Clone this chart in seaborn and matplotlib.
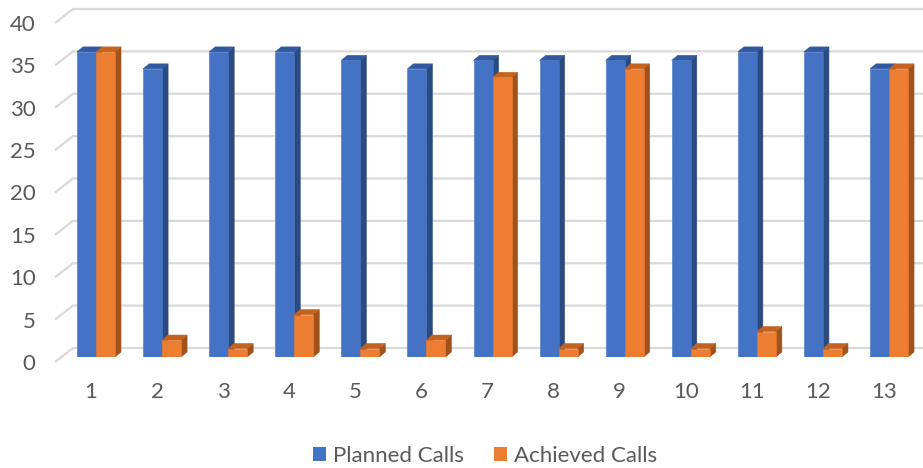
import numpy as np
import pandas as pd
import matplotlib
matplotlib.use("Agg")
import matplotlib.pyplot as plt
from matplotlib.patches import Polygon, Patch
from matplotlib.transforms import ScaledTranslation
import seaborn as sns

# ---- data ----
categories = [str(i) for i in range(1, 14)]
planned_calls = [36, 34, 36, 36, 35, 34, 35, 35, 35, 35, 36, 36, 34]
achieved_calls = [36, 2, 1, 5, 1, 2, 33, 1, 34, 1, 3, 1, 34]
series_names = ["Planned Calls", "Achieved Calls"]
y_ticks = [0, 5, 10, 15, 20, 25, 30, 35, 40]

df = pd.DataFrame({
    "cat": categories * 2,
    "series": [series_names[0]] * len(categories) + [series_names[1]] * len(categories),
    "value": planned_calls + achieved_calls,
})

# ---- style ----
sns.set_style("white")
plt.rcParams["font.family"] = ["Lato", "DejaVu Sans"]
TXT = "#595959"
FS = 16
front = {"Planned Calls": "#4472C4", "Achieved Calls": "#ED7D31"}
top_c = {"Planned Calls": "#31599F", "Achieved Calls": "#C4621F"}
side_c = {"Planned Calls": "#2B4A80", "Achieved Calls": "#A0521C"}

W, H, DPI = 923, 468, 100
fig = plt.figure(figsize=(W / DPI, H / DPI), dpi=DPI)
# axes in pixels: x 55..923, y(0)=357px, y(40)=18px from top
ax = fig.add_axes([55 / W, (H - 357) / H, 868 / W, 339 / H])

sns.barplot(data=df, x="cat", y="value", hue="series", order=categories,
            hue_order=series_names, palette=front, width=0.575,
            saturation=1, ax=ax, zorder=3, linewidth=0)
if ax.get_legend():
    ax.get_legend().remove()

ax.set_xlim(-0.6205, 12.514)
ax.set_ylim(0, 40)
for s in ax.spines.values():
    s.set_visible(False)

px_x = (ax.get_xlim()[1] - ax.get_xlim()[0]) / 868.0   # data units per pixel (x)
px_y = 40.0 / 339.0                                     # data units per pixel (y)

# ---- back wall gridlines with left perspective edge ----
x0 = ax.get_xlim()[0]
x_back = x0 + 18 * px_x
x1 = ax.get_xlim()[1]
for v in y_ticks:
    yf = v - 5 * px_y
    yb = v + 9 * px_y
    ax.plot([x0, x_back, x1], [yf, yb, yb], color="#D9D9D9", lw=1.6,
            zorder=1, clip_on=False, solid_capstyle="butt")

# ---- 3D faces on bars ----
dx = 6 * px_x
dy = 5 * px_y
bars = [p for p in ax.patches if p.get_width() > 0]
bars_sorted = sorted(bars, key=lambda p: p.get_x())
for i, p in enumerate(bars_sorted):
    xl = p.get_x()
    w = p.get_width()
    h = p.get_height()
    fc = matplotlib.colors.to_hex(p.get_facecolor())
    name = "Planned Calls" if fc.lower() == front["Planned Calls"].lower() else "Achieved Calls"
    z = 3 + i * 0.01
    p.set_zorder(z + 0.005)
    p.set_edgecolor(front[name])
    p.set_linewidth(0.4)
    side = Polygon([[xl + w, 0], [xl + w + dx, dy], [xl + w + dx, h + dy], [xl + w, h]],
                   closed=True, facecolor=side_c[name], edgecolor=side_c[name],
                   lw=0.4, zorder=z)
    top = Polygon([[xl, h], [xl + dx, h + dy], [xl + w + dx, h + dy], [xl + w, h]],
                  closed=True, facecolor=top_c[name], edgecolor=top_c[name],
                  lw=0.4, zorder=z)
    ax.add_patch(side)
    ax.add_patch(top)

# ---- ticks ----
ax.set_yticks(y_ticks)
ax.set_yticklabels([str(v) for v in y_ticks])
ax.tick_params(axis="y", length=0, pad=14, labelsize=FS, labelcolor=TXT)
ax.tick_params(axis="x", length=0, pad=18, labelsize=FS, labelcolor=TXT)
ax.set_xlabel("")
ax.set_ylabel("")
off_y = ScaledTranslation(0, -5 / DPI, fig.dpi_scale_trans)
for lab in ax.get_yticklabels():
    lab.set_transform(lab.get_transform() + off_y)
off_x = ScaledTranslation(-5 / DPI, 0, fig.dpi_scale_trans)
for lab in ax.get_xticklabels():
    lab.set_transform(lab.get_transform() + off_x)

# ---- legend ----
handles = [Patch(facecolor=front[s], edgecolor="none") for s in series_names]
fig.legend(handles, series_names, loc="center", bbox_to_anchor=(485 / W, 12 / H),
           ncol=2, frameon=False, fontsize=FS, labelcolor=TXT,
           handlelength=0.59, handleheight=0.59, handletextpad=0.33,
           columnspacing=1.35, borderaxespad=0, borderpad=0)

fig.savefig("out.png", dpi=DPI)
